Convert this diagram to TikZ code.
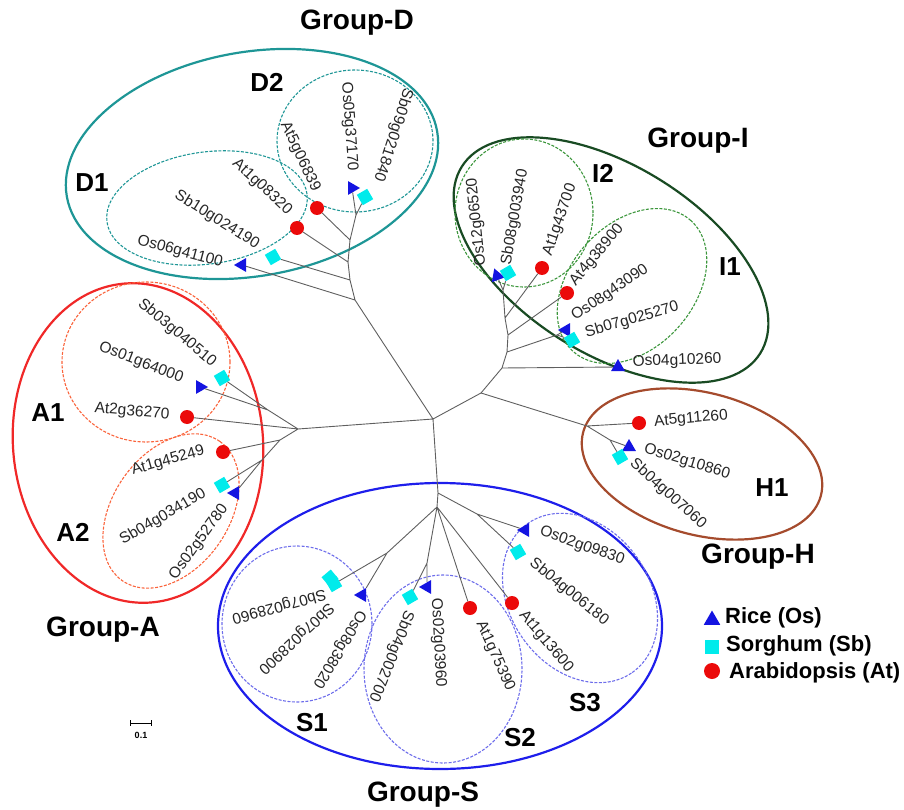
\documentclass[tikz,border=0pt]{standalone}
\usepackage{fontspec}
\setmainfont{Liberation Sans}
\usetikzlibrary{shapes.geometric}

\definecolor{rice}{RGB}{20,20,225}
\definecolor{sorghum}{RGB}{0,235,235}
\definecolor{arab}{RGB}{235,10,10}
\definecolor{grpD}{RGB}{30,150,150}
\definecolor{grpI}{RGB}{25,75,35}
\definecolor{subI}{RGB}{60,150,60}
\definecolor{grpA}{RGB}{240,40,40}
\definecolor{subA}{RGB}{250,100,60}
\definecolor{grpS}{RGB}{30,30,235}
\definecolor{subS}{RGB}{110,110,235}
\definecolor{grpH}{RGB}{165,75,45}
\definecolor{branch}{RGB}{95,95,95}

\begin{document}
\begin{tikzpicture}[x=1pt,y=-1pt,
    br/.style={draw=branch,line width=0.9pt},
    tri/.style={regular polygon,regular polygon sides=3,fill=rice,inner sep=0pt,minimum size=16pt},
    sq/.style={rectangle,fill=sorghum,inner sep=0pt,minimum size=12pt,rotate=30},
    dot/.style={circle,fill=arab,inner sep=0pt,minimum size=14pt},
    gene/.style={font=\fontsize{15.5}{15.5}\selectfont,text=black!85,inner sep=0pt},
    grpline/.style={line width=2.2pt},
    cladeline/.style={line width=1.1pt,dash pattern=on 3pt off 1.5pt},
    grplabel/.style={font=\bfseries\fontsize{28}{28}\selectfont},
    cladelabel/.style={font=\bfseries\fontsize{26}{26}\selectfont},
    keylabel/.style={font=\bfseries\fontsize{22}{22}\selectfont,anchor=west,inner sep=0pt}]

    \useasboundingbox (0,0) rectangle (904,810);

    % Group ellipses
    \draw[grpline,grpD,rotate around={10:(252,164)}] (252,164) ellipse [x radius=188pt,y radius=112pt];
    \draw[cladeline,grpD,rotate around={8:(207,208)}] (207,208) ellipse [x radius=101pt,y radius=56pt];
    \draw[cladeline,grpD] (355,141) ellipse [x radius=78pt,y radius=71pt];

    \draw[grpline,grpI,rotate around={-32:(611,260)}] (611,260) ellipse [x radius=176pt,y radius=94pt];
    \draw[cladeline,subI] (524,213) ellipse [x radius=69pt,y radius=74pt];
    \draw[cladeline,subI,rotate around={48:(632,286)}] (632,286) ellipse [x radius=88pt,y radius=62pt];

    \draw[grpline,grpA,rotate around={5:(138,443)}] (138,443) ellipse [x radius=125pt,y radius=160pt];
    \draw[cladeline,subA] (146,362) ellipse [x radius=84pt,y radius=80pt];
    \draw[cladeline,subA,rotate around={55:(171,511)}] (171,511) ellipse [x radius=85pt,y radius=58pt];

    \draw[grpline,grpS] (440,626) ellipse [x radius=222pt,y radius=143pt];
    \draw[cladeline,subS] (297,624) ellipse [x radius=75pt,y radius=78pt];
    \draw[cladeline,subS] (443,669) ellipse [x radius=79pt,y radius=94pt];
    \draw[cladeline,subS,rotate around={-55:(580,598)}] (580,598) ellipse [x radius=91pt,y radius=70pt];

    \draw[grpline,grpH,rotate around={-15:(702,464)}] (702,464) ellipse [x radius=123pt,y radius=71pt];

    % Inner nodes
    \coordinate (c0) at (433,419);
    \coordinate (d0) at (355,300);
    \coordinate (d1) at (350,280);
    \coordinate (d2) at (348,262);
    \coordinate (d3) at (350,240);
    \coordinate (d4) at (356,215);
    \coordinate (a0) at (298,429);
    \coordinate (a1) at (268,410);
    \coordinate (a2) at (280,440);
    \coordinate (a3) at (262,460);
    \coordinate (ih) at (481,393);
    \coordinate (i0) at (502,368);
    \coordinate (ia) at (507,352);
    \coordinate (i1) at (557,335);
    \coordinate (ib) at (508,335);
    \coordinate (ic) at (505,318);
    \coordinate (id) at (503,290);
    \coordinate (h0) at (587,426);
    \coordinate (h1) at (610,440);
    \coordinate (s0) at (438,493);
    \coordinate (s1) at (437,507);
    \coordinate (s3) at (477,514);
    \coordinate (sa) at (387,553);
    \coordinate (sb) at (427,563);

    % Leaves: Group-D
    \node[tri,rotate=-30] (Os06g41100) at (242,265) {};
    \node[sq] (Sb10g024190) at (273,257) {};
    \node[dot] (At1g08320) at (297,228) {};
    \node[dot] (At5g06839) at (317,208) {};
    \node[tri,rotate=30] (Os05g37170) at (352,188) {};
    \node[sq] (Sb09g021840) at (365,197) {};

    % Leaves: Group-A
    \node[sq] (Sb03g040510) at (222,378) {};
    \node[tri,rotate=30] (Os01g64000) at (200,387) {};
    \node[dot] (At2g36270) at (187,417) {};
    \node[dot] (At1g45249) at (223,452) {};
    \node[sq] (Sb04g034190) at (222,485) {};
    \node[tri,rotate=-30] (Os02g52780) at (235,493) {};

    % Leaves: Group-I
    \node[tri,rotate=20] (Os12g06520) at (497,276) {};
    \node[sq] (Sb08g003940) at (508,273) {};
    \node[dot] (At1g43700) at (542,268) {};
    \node[dot] (At4g38900) at (567,293) {};
    \node[tri,rotate=-30] (Os08g43090) at (566,330) {};
    \node[sq] (Sb07g025270) at (572,340) {};
    \node[tri] (Os04g10260) at (618,367) {};

    % Leaves: Group-H
    \node[dot] (At5g11260) at (639,423) {};
    \node[tri] (Os02g10860) at (629,447) {};
    \node[sq] (Sb04g007060) at (620,457) {};

    % Leaves: Group-S
    \node[sq,rotate=10] (Sb07g028900) at (330,578) {};
    \node[sq] (Sb07g028960) at (334,584) {};
    \node[tri,rotate=-30] (Os08g38020) at (362,595) {};
    \node[sq] (Sb04g002700) at (410,597) {};
    \node[tri,rotate=-30] (Os02g03960) at (427,587) {};
    \node[dot] (At1g75390) at (470,608) {};
    \node[dot] (At1g13600) at (512,603) {};
    \node[sq] (Sb04g006180) at (518,552) {};
    \node[tri,rotate=-30] (Os02g09830) at (525,530) {};

    % Branches
    \draw[br] (c0) -- (d0) (c0) -- (a0) (c0) -- (ih) (c0) -- (s0);
    \draw[br] (d0) -- (Os06g41100) (d0) -- (d1) -- (Sb10g024190) (d1) -- (d2) -- (At1g08320)
      (d2) -- (d3) -- (At5g06839) (d3) -- (d4) -- (Os05g37170) (d4) -- (Sb09g021840);
    \draw[br] (a0) -- (a1) -- (Sb03g040510) (a1) -- (Os01g64000) (a0) -- (At2g36270)
      (a0) -- (a2) -- (At1g45249) (a2) -- (a3) -- (Sb04g034190) (a3) -- (Os02g52780);
    \draw[br] (ih) -- (i0) -- (Os04g10260) (i0) -- (ia) -- (i1) -- (Os08g43090) (i1) -- (Sb07g025270)
      (ia) -- (ib) -- (At4g38900) (ib) -- (ic) -- (At1g43700) (ic) -- (id) -- (Os12g06520) (id) -- (Sb08g003940);
    \draw[br] (ih) -- (h0) -- (At5g11260) (h0) -- (h1) -- (Os02g10860) (h1) -- (Sb04g007060);
    \draw[br] (s0) -- (s3) -- (Os02g09830) (s3) -- (Sb04g006180) (s0) -- (s1)
      (s1) -- (sa) -- (Sb07g028960) (sa) -- (Os08g38020) (s1) -- (sb) -- (Sb04g002700) (sb) -- (Os02g03960)
      (s1) -- (At1g75390) (s1) -- (At1g13600);

    % Gene names
    \node[gene,rotate=-15] (t-Os06g41100) at (180,252) {Os06g41100};
    \node[gene,rotate=-32] (t-Sb10g024190) at (217,220) {Sb10g024190};
    \node[gene,rotate=-43] (t-At1g08320) at (262,187) {At1g08320};
    \node[gene,rotate=-65] (t-At5g06839) at (300,157) {At5g06839};
    \node[gene,rotate=-86] (t-Os05g37170) at (349,127) {Os05g37170};
    \node[gene,rotate=-108] (t-Sb09g021840) at (393,135) {Sb09g021840};

    \node[gene,rotate=-40] (t-Sb03g040510) at (177,333) {Sb03g040510};
    \node[gene,rotate=-21] (t-Os01g64000) at (141,363) {Os01g64000};
    \node[gene,rotate=-5] (t-At2g36270) at (132,412) {At2g36270};
    \node[gene,rotate=16] (t-At1g45249) at (168,461) {At1g45249};
    \node[gene,rotate=30] (t-Sb04g034190) at (163,517) {Sb04g034190};
    \node[gene,rotate=54] (t-Os02g52780) at (199,542) {Os02g52780};

    \node[gene,rotate=96] (t-Os12g06520) at (477,222) {Os12g06520};
    \node[gene,rotate=80] (t-Sb08g003940) at (515,217) {Sb08g003940};
    \node[gene,rotate=71] (t-At1g43700) at (560,220) {At1g43700};
    \node[gene,rotate=50] (t-At4g38900) at (597,255) {At4g38900};
    \node[gene,rotate=34] (t-Os08g43090) at (610,293) {Os08g43090};
    \node[gene,rotate=16] (t-Sb07g025270) at (632,320) {Sb07g025270};
    \node[gene,rotate=2] (t-Os04g10260) at (677,361) {Os04g10260};

    \node[gene,rotate=5] (t-At5g11260) at (691,419) {At5g11260};
    \node[gene,rotate=-17] (t-Os02g10860) at (687,462) {Os02g10860};
    \node[gene,rotate=-42] (t-Sb04g007060) at (668,494) {Sb04g007060};

    \node[gene,rotate=-165] (t-Sb07g028960) at (279,606) {Sb07g028960};
    \node[gene,rotate=-137] (t-Sb07g028900) at (296,638) {Sb07g028900};
    \node[gene,rotate=-121] (t-Os08g38020) at (339,649) {Os08g38020};
    \node[gene,rotate=-112] (t-Sb04g002700) at (391,656) {Sb04g002700};
    \node[gene,rotate=-87] (t-Os02g03960) at (438,643) {Os02g03960};
    \node[gene,rotate=-66] (t-At1g75390) at (495,656) {At1g75390};
    \node[gene,rotate=-50] (t-At1g13600) at (546,642) {At1g13600};
    \node[gene,rotate=-39] (t-Sb04g006180) at (569,592) {Sb04g006180};
    \node[gene,rotate=-20] (t-Os02g09830) at (582,546) {Os02g09830};

    % Group and clade names
    \node[grplabel] (gD) at (357,23) {Group-D};
    \node[grplabel] (gI) at (698,141) {Group-I};
    \node[grplabel] (gA) at (103,630) {Group-A};
    \node[grplabel] (gS) at (423,795) {Group-S};
    \node[grplabel] (gH) at (758,557) {Group-H};
    \node[cladelabel] (D1) at (92,183) {D1};
    \node[cladelabel] (D2) at (267,82) {D2};
    \node[cladelabel] (I1) at (730,267) {I1};
    \node[cladelabel] (I2) at (603,173) {I2};
    \node[cladelabel] (A1) at (48,413) {A1};
    \node[cladelabel] (A2) at (73,532) {A2};
    \node[cladelabel] (S1) at (312,723) {S1};
    \node[cladelabel] (S2) at (520,738) {S2};
    \node[cladelabel] (S3) at (585,703) {S3};
    \node[cladelabel] (H1) at (772,488) {H1};

    % Legend
    \node[tri,minimum size=19pt] (kOs) at (712,620) {};
    \node[rectangle,fill=sorghum,minimum size=14pt,inner sep=0pt] (kSb) at (712,647) {};
    \node[dot,minimum size=16pt] (kAt) at (712,671) {};
    \node[keylabel] (kOs-t) at (725,618) {Rice (Os)};
    \node[keylabel] (kSb-t) at (726,646) {Sorghum (Sb)};
    \node[keylabel] (kAt-t) at (729,673) {Arabidopsis (At)};

    % Scale bar
    \coordinate (bar0) at (130,723);
    \coordinate (bar1) at (151,723);
    \draw[line width=1pt] (bar0) -- (bar1) ([yshift=3pt]bar0) -- ([yshift=-3pt]bar0) ([yshift=3pt]bar1) -- ([yshift=-3pt]bar1);
    \node[font=\bfseries\fontsize{9}{9}\selectfont] (bar-t) at (141,735) {0.1};
\end{tikzpicture}
\end{document}
